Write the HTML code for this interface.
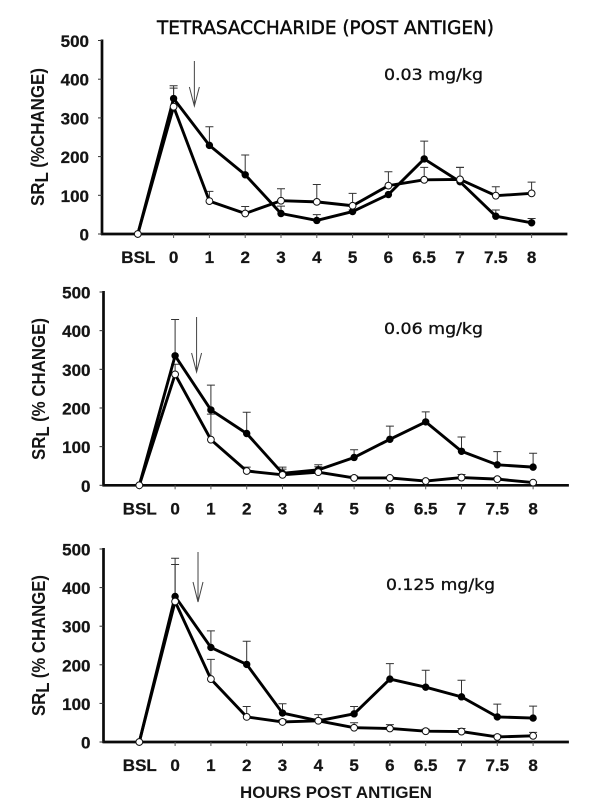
<!DOCTYPE html>
<html>
<head>
<meta charset="utf-8">
<title>Tetrasaccharide (Post Antigen)</title>
<style>
html,body{margin:0;padding:0;background:#fff;width:600px;height:812px;overflow:hidden}
svg{display:block}
.tick{font-family:"Liberation Sans",sans-serif;font-weight:700;font-size:17px;fill:#151515;stroke:#151515;stroke-width:.25px}
.ytitle{font-family:"Liberation Sans",sans-serif;font-weight:700;font-size:18.5px;fill:#151515}
.dose{font-family:"DejaVu Sans",sans-serif;font-size:16px;fill:#111;stroke:#111;stroke-width:.35px}
</style>
</head>
<body>
<svg id="chart" xmlns="http://www.w3.org/2000/svg" width="600" height="812" viewBox="0 0 600 812">
<rect width="600" height="812" fill="#fff"/>
<text x="157" y="34" font-family="'DejaVu Sans',sans-serif" font-size="18.5px" fill="#0a0a0a" stroke="#0a0a0a" stroke-width="0.45" textLength="337" lengthAdjust="spacingAndGlyphs">TETRASACCHARIDE (POST ANTIGEN)</text>
<text x="240" y="798" font-family="'Liberation Sans',sans-serif" font-weight="700" font-size="16.5px" fill="#151515" textLength="192" lengthAdjust="spacingAndGlyphs">HOURS POST ANTIGEN</text>
</svg>
<script>
var categories = ["BSL","0","1","2","3","4","5","6","6.5","7","7.5","8"];
var yTickLabels = [0,100,200,300,400,500];

var filled003 = [0,350,229,153,53,35,58,102,194,135,46,29];
var open003 = [0,329,85,53,86,83,73,125,140,141,99,105];
var filledTop003 = [0,383,277,204,72,50,62,102,240,172,62,40];
var openTop003 = [0,377,110,71,117,128,105,161,172,172,122,134];

var filled006 = [0,335,195,134,31,40,72,119,164,88,53,47];
var open006 = [0,287,118,37,27,34,19,19,11,20,16,7];
var filledTop006 = [0,429,259,189,47,53,92,153,190,125,87,83];
var openTop006 = [0,313,184,47,42,48,24,22,14,28,20,9];

var filled0125 = [0,377,245,201,75,55,73,163,142,117,65,62];
var open0125 = [0,364,163,65,52,55,37,35,28,27,13,16];
var filledTop0125 = [0,476,288,261,99,71,92,203,186,160,98,93];
var openTop0125 = [0,460,214,92,58,60,50,45,33,35,18,25];

var svg = document.getElementById('chart');
var NS = 'http://www.w3.org/2000/svg';

function add(tag, attrs, parent, text) {
  var el = document.createElementNS(NS, tag);
  for (var k in attrs) el.setAttribute(k, attrs[k]);
  if (text !== undefined) el.textContent = text;
  (parent || svg).appendChild(el);
  return el;
}

function drawPanel(p) {
  var g = add('g', {});
  
  

  function xScale(i) { return p.left + (i + 1) * p.step; }
  function yScale(v) { return p.y0 + (p.y500 - p.y0) * v / 500; }

  // Value axis
  var yAxis = add('line', {x1: p.left, x2: p.left, y1: yScale(500) - 1, y2: yScale(0) + 1, stroke: '#0a0a0a', 'stroke-width': 2.7}, g);
  
  
  var xAxis = add('line', {x1: p.left - 1, x2: p.left + 13 * p.step, y1: yScale(0), y2: yScale(0), stroke: '#0a0a0a', 'stroke-width': 2.7}, g);
  
  

  yTickLabels.forEach(function (v) {
    var t = add('line', {x1: p.left - 4, x2: p.left, y1: yScale(v), y2: yScale(v), stroke: '#333', 'stroke-width': 1}, g);
    
    
    var l = add('text', {x: p.left - 13, y: yScale(v) + 6.5, 'text-anchor': 'end', 'class': 'tick'}, g, String(v));
    
    
  });

  categories.forEach(function (c, i) {
    var t = add('line', {x1: xScale(i), x2: xScale(i), y1: yScale(0), y2: yScale(0) + 4, stroke: '#555', 'stroke-width': 1}, g);
    
    
    var l = add('text', {x: xScale(i) + (i === 0 ? 0.5 : 0), y: yScale(0) + 29, 'text-anchor': 'middle', 'class': 'tick'}, g, c);
    
    
  });

  // Y title
  var title = add('text', {transform: 'translate(' + p.titleX + ',' + p.titleBottom + ') rotate(-90)', 'class': 'ytitle', textLength: p.titleLen, lengthAdjust: 'spacingAndGlyphs'}, g);
  
  
  add('tspan', {}, title, 'SR');
  add('tspan', {dy: 4}, title, 'L');
  add('tspan', {dy: -4}, title, p.titleRest);

  // Dose label
  var dose = add('text', {x: p.doseX, y: p.doseY, 'class': 'dose', textLength: p.doseLen, lengthAdjust: 'spacingAndGlyphs'}, g, p.dose);
  
  

  // Antigen arrow
  var ax = xScale(1) + p.arrowPos * p.step;
  var arrow = add('path', {d: 'M' + ax + ' ' + p.arrowTop + 'V' + p.arrowTip + 'M' + (ax - 5) + ' ' + p.arrowBarb + 'L' + ax + ' ' + p.arrowTip + 'L' + (ax + 5) + ' ' + p.arrowBarb, fill: 'none', stroke: '#444', 'stroke-width': 1}, g);
  
  

  // Error bars
  function errors(vals, tops, name) {
    vals.forEach(function (v, i) {
      if (tops[i] <= v) return;
      var e = add('path', {d: 'M' + xScale(i) + ' ' + yScale(v) + 'V' + yScale(tops[i]) + 'M' + (xScale(i) - 4) + ' ' + yScale(tops[i]) + 'H' + (xScale(i) + 4), fill: 'none', stroke: '#333', 'stroke-width': 1}, g);
      
      
    });
  }
  errors(p.filled, p.filledTop, 'filled-error-bar');
  errors(p.open, p.openTop, 'open-error-bar');

  function series(vals, name) {
    var d = vals.map(function (v, i) { return (i ? 'L' : 'M') + xScale(i) + ' ' + yScale(v); }).join('');
    var s = add('path', {d: d, fill: 'none', stroke: '#000', 'stroke-width': 2.9, 'stroke-linejoin': 'round'}, g);
    
    
  }
  series(p.filled, 'filled-series-line');
  series(p.open, 'open-series-line');

  p.filled.forEach(function (v, i) {
    if (i === 0) return;
    var m = add('circle', {cx: xScale(i), cy: yScale(v), r: 3.7, fill: '#000'}, g);
    
    
  });
  p.open.forEach(function (v, i) {
    var m = add('circle', {cx: xScale(i), cy: yScale(v), r: 3.4, fill: '#fff', stroke: '#111', 'stroke-width': 1}, g);
    
    
  });
}

drawPanel({key: '0-03', left: 102, step: 35.8, y0: 234, y500: 40.5,
  filled: filled003, open: open003, filledTop: filledTop003, openTop: openTop003,
  dose: '0.03 mg/kg', doseX: 384, doseY: 80, doseLen: 99,
  titleX: 44, titleBottom: 206, titleLen: 138, titleRest: ' (%CHANGE)',
  arrowPos: 0.58, arrowTop: 61, arrowTip: 106, arrowBarb: 87});

drawPanel({key: '0-06', left: 103.5, step: 35.8, y0: 485.3, y500: 292,
  filled: filled006, open: open006, filledTop: filledTop006, openTop: openTop006,
  dose: '0.06 mg/kg', doseX: 384, doseY: 334, doseLen: 99,
  titleX: 45, titleBottom: 460, titleLen: 142, titleRest: ' (% CHANGE)',
  arrowPos: 0.6, arrowTop: 317, arrowTip: 372, arrowBarb: 353});

drawPanel({key: '0-125', left: 103.5, step: 35.8, y0: 742, y500: 549,
  filled: filled0125, open: open0125, filledTop: filledTop0125, openTop: openTop0125,
  dose: '0.125 mg/kg', doseX: 386, doseY: 590, doseLen: 109,
  titleX: 45, titleBottom: 716, titleLen: 141, titleRest: ' (% CHANGE)',
  arrowPos: 0.64, arrowTop: 552, arrowTip: 602, arrowBarb: 582});
</script>
</body>
</html>
